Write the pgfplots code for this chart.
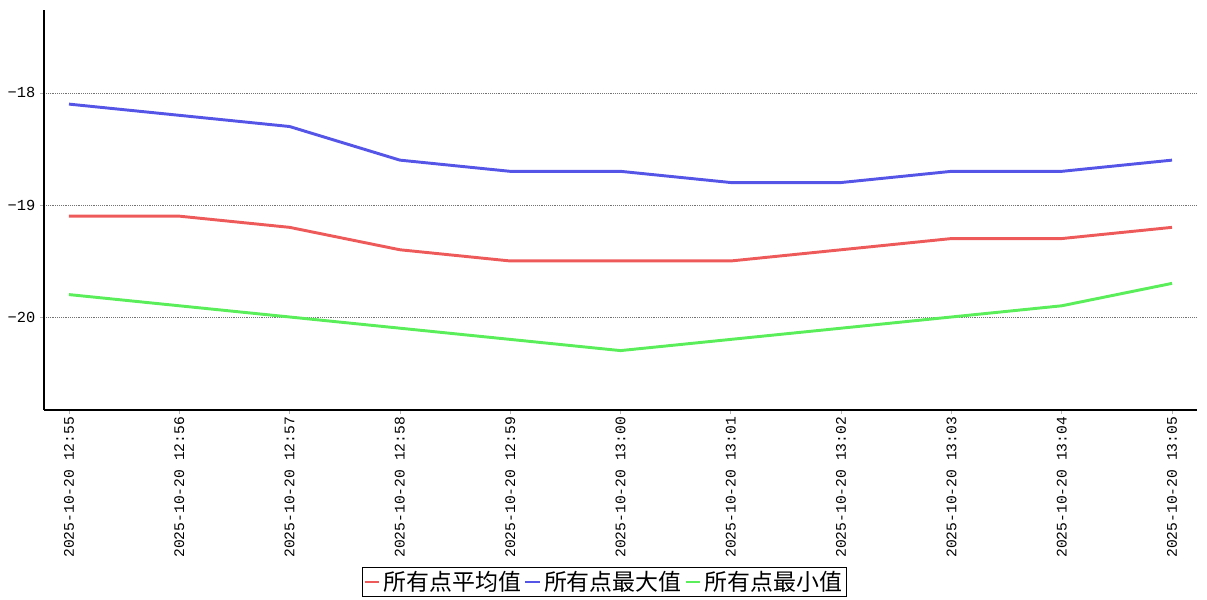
\documentclass[border=0pt]{standalone}
\usepackage{fontspec}
\setmainfont{Liberation Mono}
\newfontfamily\cjk{Noto Sans CJK SC}
\usepackage{pgfplots}
\pgfplotsset{compat=1.18}
\definecolor{cred}{HTML}{EE5A5A}
\definecolor{cblue}{HTML}{5555E8}
\definecolor{cgreen}{HTML}{5AEE5A}
\begin{document}
\begin{tikzpicture}
\begin{axis}[
  scale only axis, width=864.75pt, height=300pt,
  axis lines=left,
  axis line style={-, black, line width=1.1pt},
  xmin=-0.226, xmax=10.226, ymin=-20.83, ymax=-17.26,
  xtick={0,...,10},
  xticklabels={2025-10-20 12:55,2025-10-20 12:56,2025-10-20 12:57,2025-10-20 12:58,2025-10-20 12:59,2025-10-20 13:00,2025-10-20 13:01,2025-10-20 13:02,2025-10-20 13:03,2025-10-20 13:04,2025-10-20 13:05},
  x tick label style={rotate=90, anchor=east, font=\fontsize{11}{13}\selectfont, inner sep=2pt},
  ytick={-20,-19,-18},
  yticklabels={−20,−19,−18},
  y tick label style={font=\fontsize{11.5}{13}\selectfont},
  ymajorgrids,
  grid style={densely dotted, gray!90!black, line width=0.6pt},
  tick align=outside, major tick length=3pt, tick style={gray!60, line width=0.5pt},
  clip=false,
  legend columns=3,
  legend style={at={(0.4857,-0.43)}, anchor=center, draw=black, line width=0.6pt,
    font=\cjk\fontsize{17.2}{19}\selectfont, inner sep=1pt,
    /tikz/every even column/.append style={column sep=0pt}},
  legend cell align=left,
  legend image code/.code={\draw[#1, line width=2.2pt] (0pt,0pt) -- (11pt,0pt);},
]
\addplot[cred, line width=2.2pt] coordinates {(0,-19.1) (1,-19.1) (2,-19.2) (3,-19.4) (4,-19.5) (5,-19.5) (6,-19.5) (7,-19.4) (8,-19.3) (9,-19.3) (10,-19.2)};
\addlegendentry{所有点平均值}
\addplot[cblue, line width=2.2pt] coordinates {(0,-18.1) (1,-18.2) (2,-18.3) (3,-18.6) (4,-18.7) (5,-18.7) (6,-18.8) (7,-18.8) (8,-18.7) (9,-18.7) (10,-18.6)};
\addlegendentry{所有点最大值}
\addplot[cgreen, line width=2.2pt] coordinates {(0,-19.8) (1,-19.9) (2,-20.0) (3,-20.1) (4,-20.2) (5,-20.3) (6,-20.2) (7,-20.1) (8,-20.0) (9,-19.9) (10,-19.7)};
\addlegendentry{所有点最小值}
\path[draw=none] (rel axis cs:-0.0382,-0.475) rectangle (rel axis cs:1.0087,1.025);
\end{axis}
\end{tikzpicture}
\end{document}
